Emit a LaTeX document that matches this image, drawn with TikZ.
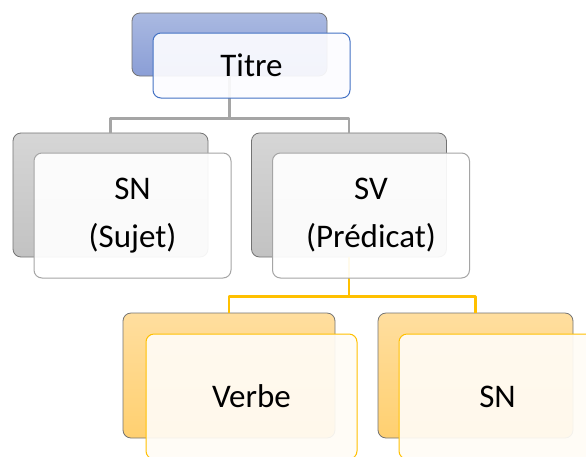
\documentclass[tikz,border=0pt]{standalone}
\usepackage{fontspec}
\setmainfont{Carlito}
\definecolor{bleuA}{HTML}{AAB9E1}
\definecolor{bleuB}{HTML}{8A9ED6}
\definecolor{bleuT}{HTML}{4472C4}
\definecolor{bleuF}{HTML}{FCFCFF}
\definecolor{grisA}{HTML}{D6D6D6}
\definecolor{grisB}{HTML}{C2C2C2}
\definecolor{grisT}{HTML}{A5A5A5}
\definecolor{orA}{HTML}{FFDE9F}
\definecolor{orB}{HTML}{FFD070}
\definecolor{orT}{HTML}{FFC000}
\definecolor{orF}{HTML}{FFFCF6}
\tikzset{
	fond/.style={draw=black!55, line width=0.8pt, rounded corners=8pt, minimum width=195pt, minimum height=124pt, inner sep=0pt},
	carte/.style={line width=1pt, rounded corners=8pt, fill opacity=0.92, text opacity=1, minimum width=197pt, minimum height=125pt, inner sep=0pt, align=center, font=\fontsize{33}{48}\selectfont},
	lien/.style={line width=2.5pt},
}
\begin{document}
\begin{tikzpicture}[x=1pt, y=1pt, line join=round]
	\clip (0,0) rectangle (586,-456);
	\fill[white] (0,0) rectangle (586,-456);
	% fonds
	\node[fond, top color=bleuA, bottom color=bleuB, minimum height=63pt] (titreb) at (229.5,-44.5) {};
	\node[fond, top color=grisA, bottom color=grisB] (sujetb) at (110.5,-195) {};
	\node[fond, top color=grisA, bottom color=grisB] (predb) at (349,-195) {};
	\node[fond, top color=orA, bottom color=orB, minimum width=212pt, minimum height=125pt] (verbeb) at (229,-375.5) {};
	\node[fond, top color=orA, bottom color=orB, minimum height=125pt] (snb) at (475.5,-375.5) {};
	% liens
	\draw[lien, draw=grisT] (titreb.south) -- ++(0,-42) -| (sujetb.north);
	\draw[lien, draw=grisT] (titreb.south) -- ++(0,-42) -| (predb.north);
	\draw[lien, draw=orT] (predb.south) -- ++(0,-39) -| (verbeb.north);
	\draw[lien, draw=orT] (predb.south) -- ++(0,-39) -| (snb.north);
	% cartes
	\node[carte, draw=bleuT, fill=bleuF, minimum height=65pt, xshift=22pt, yshift=-21pt] (titre) at (titreb) {Titre};
	\node[carte, draw=grisT, fill=white, xshift=22pt, yshift=-20.5pt] (sujet) at (sujetb) {SN\\(Sujet)};
	\node[carte, draw=grisT, fill=white, xshift=22pt, yshift=-20.5pt] (pred) at (predb) {SV\\(Prédicat)};
	\node[carte, draw=orT, fill=orF, minimum width=211pt, xshift=22.5pt, yshift=-21pt] (verbe) at (verbeb) {Verbe};
	\node[carte, draw=orT, fill=orF, xshift=22pt, yshift=-21pt] (sn) at (snb) {SN};
\end{tikzpicture}
\end{document}
